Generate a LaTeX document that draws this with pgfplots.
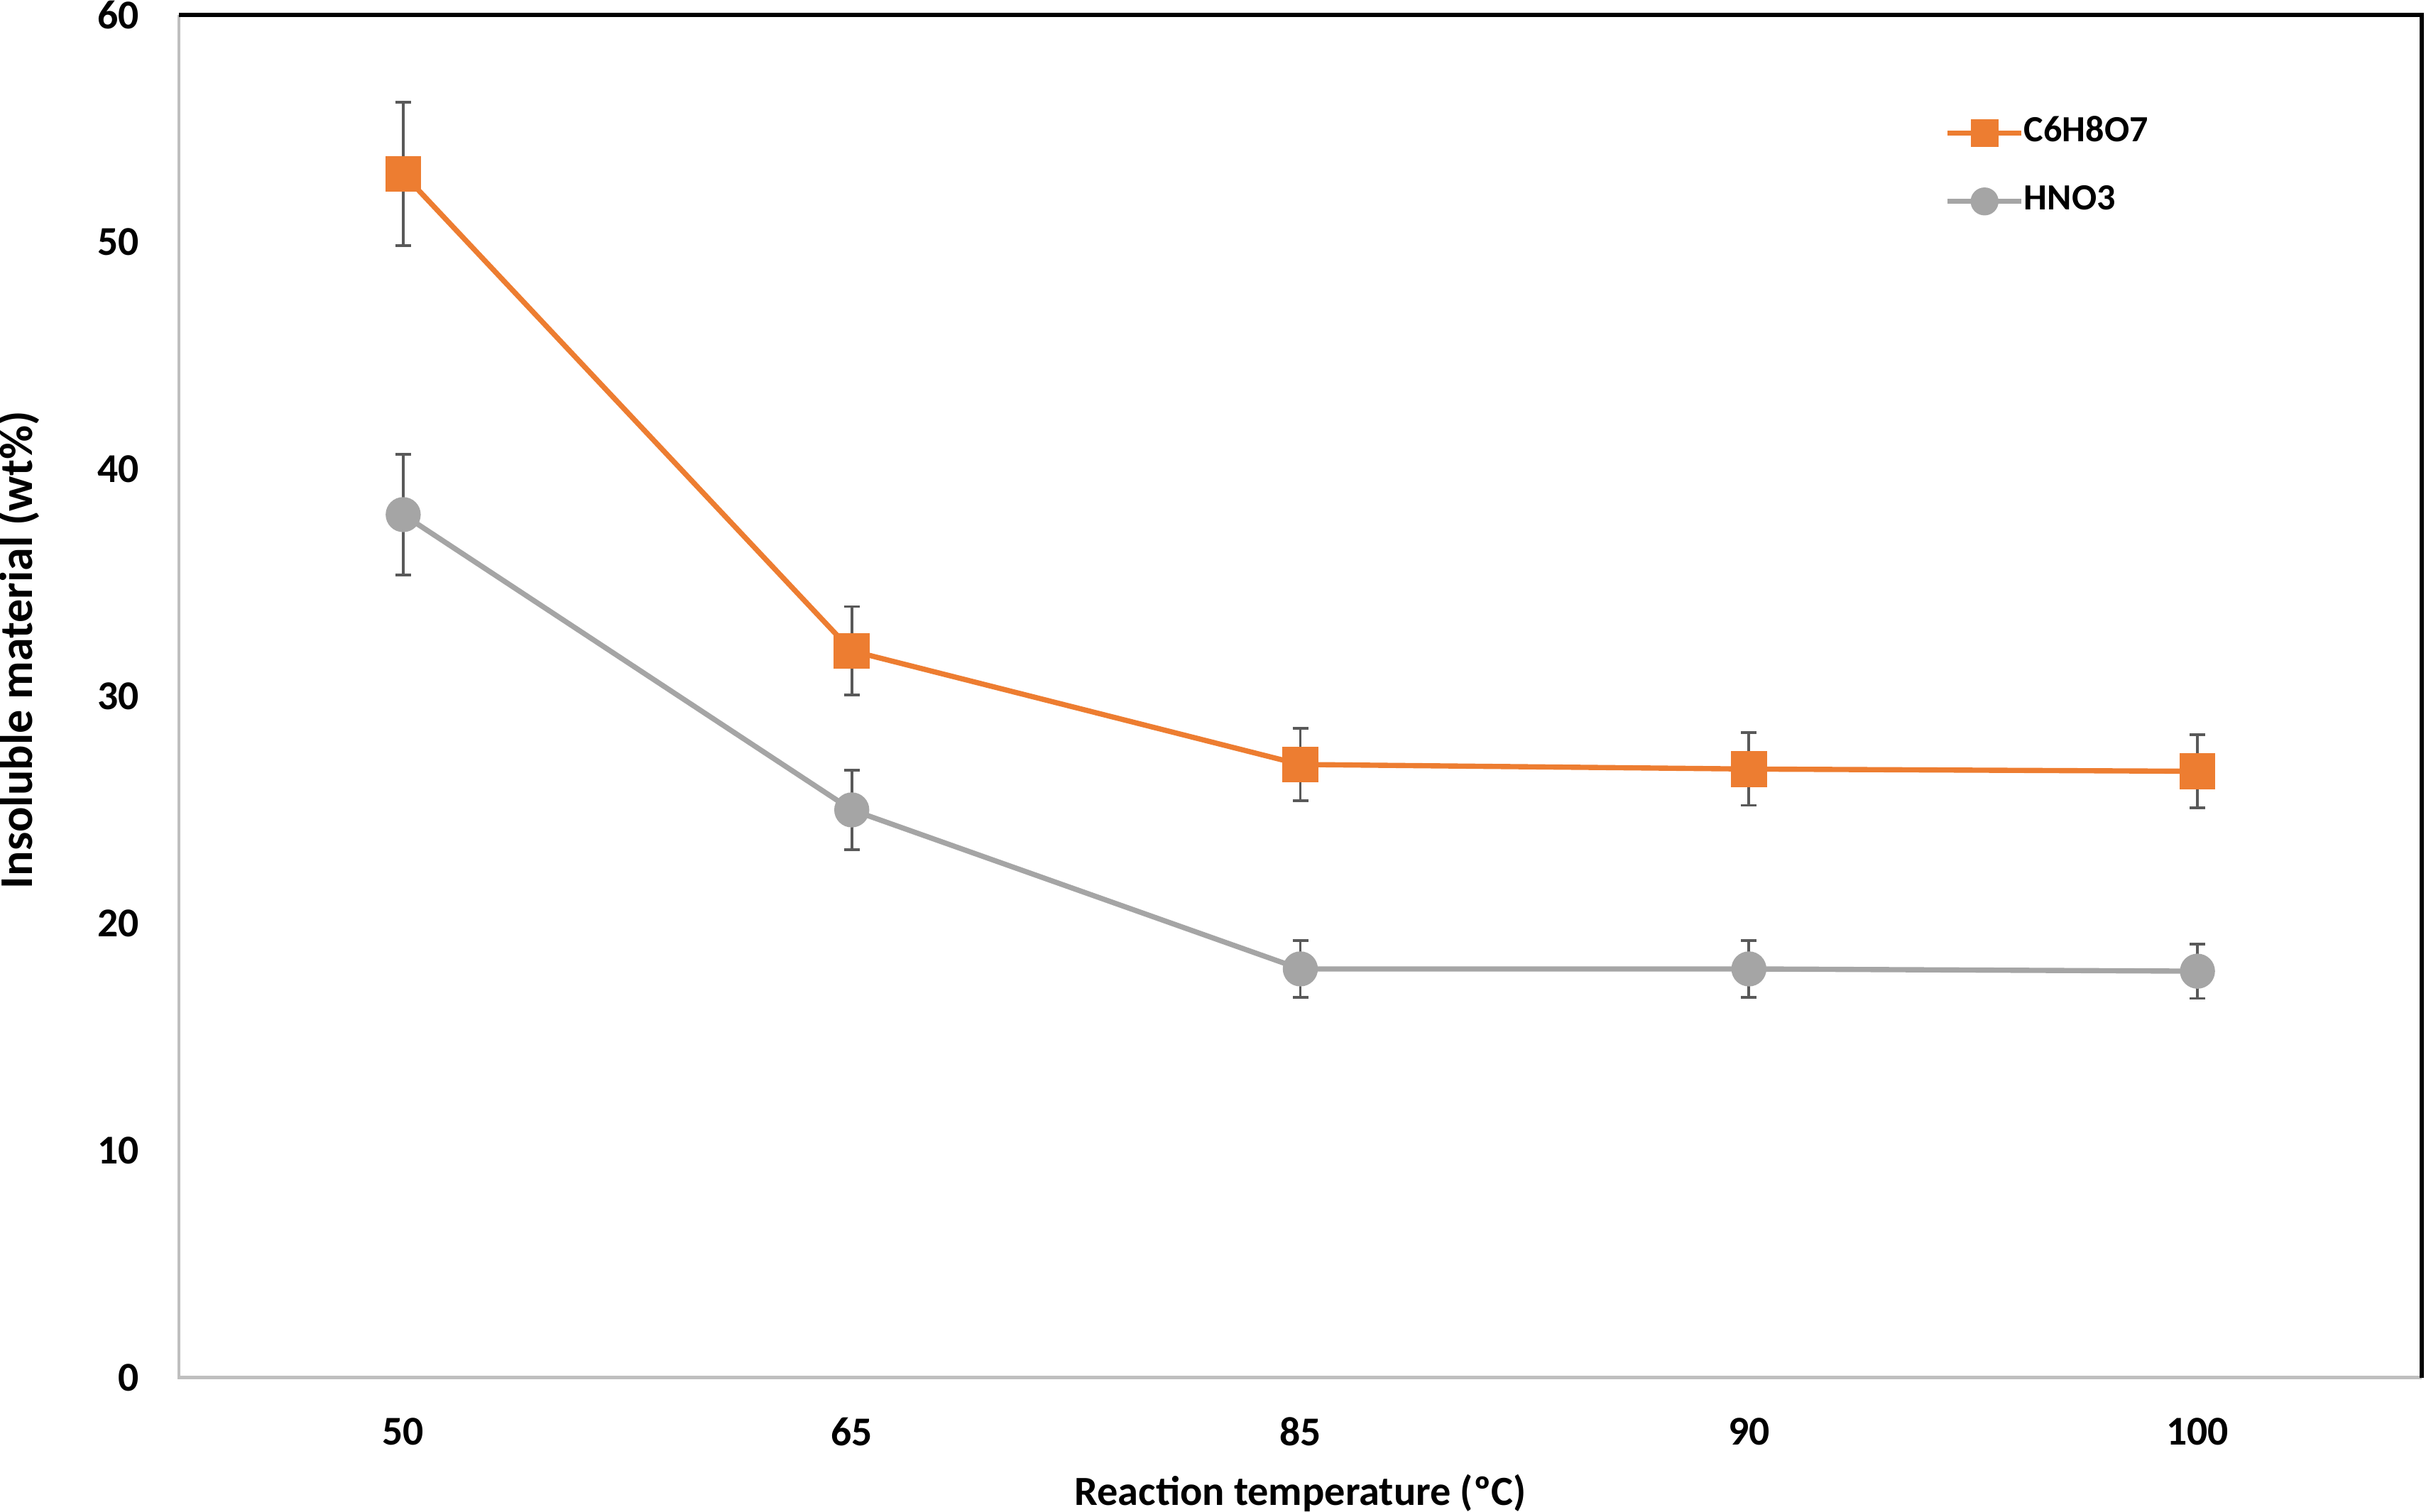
\documentclass[border=0pt]{standalone}
\usepackage{pgfplots}
\pgfplotsset{compat=1.18}
\usepackage{fontspec}
\setmainfont{Carlito}

\definecolor{orng}{HTML}{ED7D31}
\definecolor{gry}{HTML}{A5A5A5}
\definecolor{errc}{HTML}{595959}
\definecolor{axgray}{HTML}{BFBFBF}

\begin{document}
\begin{tikzpicture}
\begin{axis}[
    scale only axis,
    width=15.795cm, height=9.6cm,
    xmin=-0.5, xmax=4.5,
    ymin=0, ymax=60,
    xtick={0,...,4},
    xticklabels={50,65,85,90,100},
    ytick={0,10,...,60},
    major tick length=0pt,
    axis line style={draw=none},
    clip=false,
    /pgf/number format/assume math mode=true,
    tick label style={font=\fontsize{8.2}{9}\selectfont\bfseries},
    xticklabel style={anchor=center, yshift=-0.38cm, inner sep=0pt},
    yticklabel style={anchor=east, xshift=-0.275cm, inner sep=0pt},
    xlabel={Reaction temperature (ºC)},
    ylabel={Insoluble material (wt\%)},
    label style={inner sep=0pt},
    xlabel style={font=\fontsize{8.3}{9}\selectfont\bfseries,
        at={(axis description cs:0.5,-0.0844)}, anchor=center},
    ylabel style={font=\fontsize{9.4}{10}\selectfont\bfseries,
        at={(axis description cs:-0.0715,0.534)}, anchor=center},
    legend style={draw=none, fill=none, at={(axis description cs:0.787,0.8885)},
        anchor=west, inner sep=0pt, row sep=0.255cm,
        font=\fontsize{7.4}{9}\selectfont\bfseries,
        nodes={inner sep=0pt, xshift=0.04cm}, cells={anchor=west}},
    legend image code/.code={
        \draw[mark repeat=2, mark phase=2, #1, mark size=0.08cm]
            plot coordinates {(0cm,0cm) (0.26cm,0cm) (0.52cm,0cm)};},
]
\addplot[orng, line width=1.05pt, mark=square*, mark size=0.108cm,
    error bars/.cd, y dir=both, y explicit,
    error bar style={errc, line width=0.55pt},
    error mark options={errc, rotate=90, line width=0.55pt, mark size=0.055cm}]
    coordinates {(0,53) +- (0,3.15) (1,32) +- (0,1.95) (2,27) +- (0,1.6)
                 (3,26.8) +- (0,1.6) (4,26.7) +- (0,1.6)};
\addlegendentry{C6H8O7}

\addplot[gry, line width=1.05pt, mark=*, mark size=0.105cm,
    error bars/.cd, y dir=both, y explicit,
    error bar style={errc, line width=0.55pt},
    error mark options={errc, rotate=90, line width=0.55pt, mark size=0.055cm}]
    coordinates {(0,38) +- (0,2.65) (1,25) +- (0,1.75) (2,18) +- (0,1.25)
                 (3,18) +- (0,1.25) (4,17.9) +- (0,1.2)};
\addlegendentry{HNO3}

\draw[axgray, line width=0.7pt] (rel axis cs:0,1) -- (rel axis cs:0,0) -- (rel axis cs:1,0);
\draw[black, line width=0.75pt] (rel axis cs:0,1) -- (rel axis cs:1,1) -- (rel axis cs:1,0);
\coordinate (bl) at (rel axis cs:0,0);
\coordinate (tr) at (rel axis cs:1,1);
\end{axis}
\pgfresetboundingbox
\path[use as bounding box] ([xshift=-1.26cm, yshift=-0.945cm]bl) rectangle ([xshift=0.03cm, yshift=0.105cm]tr);
\end{tikzpicture}
\end{document}
